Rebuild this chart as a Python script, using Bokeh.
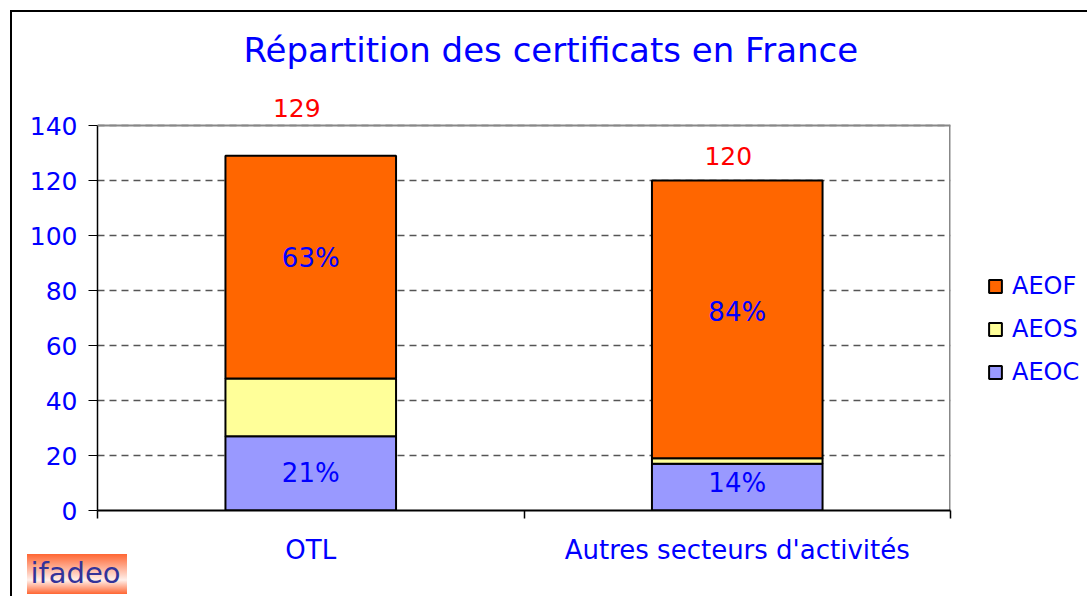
from bokeh.plotting import figure
from bokeh.models import (ColumnDataSource, Range1d, LinearAxis, FixedTicker, LabelSet, Legend,
                          LegendItem, Span, Title, InlineStyleSheet)
from bokeh.core.properties import value
from bokeh.embed import file_html
from bokeh.resources import INLINE

# ---- data ----
categories = ["OTL", "Autres secteurs d'activités"]
aeoc = [27, 17]
aeos = [21, 2]
aeof = [81, 101]
series = ["AEOC", "AEOS", "AEOF"]
y_ticks = [0, 20, 40, 60, 80, 100, 120, 140]
title_text = "Répartition des certificats en France"
logo_text = "ifadeo"

# ---- styles ----
colors = ["#9999FF", "#FFFF99", "#FF6600"]
total_label_dx = [-14, -9]
total_label_dy = [48, 25]
pct_label_dy = [0, 4, 9, 7]
FONT = "DejaVu Sans"
BLUE = "#0000FF"
PLOT_H = 385            # height of the 0..140 plot area in px
HEADROOM = 40           # extra px above it for the total labels

n_cat = len(categories)
xpos = [i + 0.5 for i in range(n_cat)]          # category slot centres
totals = [a + b + c for a, b, c in zip(aeoc, aeos, aeof)]
y_top = y_ticks[-1]

p = figure(x_range=Range1d(0, n_cat),
           y_range=Range1d(0, y_top * (PLOT_H + HEADROOM) / PLOT_H),
           frame_width=853, frame_height=PLOT_H + HEADROOM,
           min_border_left=97, min_border_top=125 - HEADROOM, min_border_right=137,
           min_border_bottom=86,
           output_backend="svg", toolbar_location=None, x_axis_location=None)

p.outline_line_color = None
p.background_fill_color = "white"
p.border_fill_color = None

# title
p.title.text = title_text
p.title.align = "left"
p.title.offset = 146
p.title.standoff = 32
p.title.text_font = FONT
p.title.text_font_size = "34px"
p.title.text_font_style = "normal"
p.title.text_color = BLUE

# y axis
yax = p.yaxis[0]
yax.ticker = FixedTicker(ticks=y_ticks)
yax.bounds = (y_ticks[0], y_top)
yax.axis_line_color = "black"
yax.axis_line_width = 1.5
yax.major_tick_in = 0
yax.major_tick_out = 9
yax.major_tick_line_color = "black"
yax.minor_tick_line_color = None
yax.major_label_text_font = FONT
yax.major_label_text_font_size = "25px"
yax.major_label_text_color = BLUE
yax.major_label_standoff = 11

p.xgrid.visible = False
p.ygrid.grid_line_color = "#555555"
p.ygrid.grid_line_dash = "7 5"
p.ygrid.grid_line_width = 1.5

# plot-area border (top and right)
p.add_layout(Span(location=y_top, dimension="width", line_color="#888888", line_width=2))
p.segment(x0=[n_cat], y0=[y_ticks[0]], x1=[n_cat], y1=[y_top], line_color="#888888", line_width=3)

# x axis: category labels, separator ticks as minor ticks
cat_axis = LinearAxis(ticker=FixedTicker(ticks=xpos, minor_ticks=list(range(n_cat + 1))),
                      major_label_overrides={x: c for x, c in zip(xpos, categories)},
                      axis_line_color="black", axis_line_width=2,
                      major_tick_line_color=None, major_tick_in=0, major_tick_out=8,
                      minor_tick_line_color="black", minor_tick_line_width=1.5,
                      minor_tick_in=0, minor_tick_out=8,
                      major_label_text_font=FONT, major_label_text_font_size="26px",
                      major_label_text_color=BLUE, major_label_standoff=16)
p.add_layout(cat_axis, "below")

# bars
src = ColumnDataSource(dict(x=xpos, AEOC=aeoc, AEOS=aeos, AEOF=aeof))
rs = p.vbar_stack(series, x="x", width=0.4, fill_color=colors, line_color="black",
                  line_width=2, source=src)

# percentage labels
def pct(vals):
    return [f"{round(100 * v / t)}%" for v, t in zip(vals, totals)]

pct_src = ColumnDataSource(dict(
    x=xpos * 2,
    y=[v / 2 for v in aeoc] + [a + b + c / 2 for a, b, c in zip(aeoc, aeos, aeof)],
    text=pct(aeoc) + pct(aeof), dy=pct_label_dy))
p.add_layout(LabelSet(x="x", y="y", text="text", y_offset="dy", source=pct_src,
                      text_align="center", text_baseline="middle", text_color=BLUE,
                      text_font=value(FONT), text_font_size="26px"))

tot_src = ColumnDataSource(dict(x=xpos, y=totals, text=[str(t) for t in totals],
                                dx=total_label_dx, dy=total_label_dy))
p.add_layout(LabelSet(x="x", y="y", text="text", x_offset="dx", y_offset="dy", source=tot_src,
                      text_align="center", text_baseline="middle", text_color="#FF0000",
                      text_font=value(FONT), text_font_size="25px"))

# legend (right side panel)
legend = Legend(items=[LegendItem(label=s, renderers=[r]) for s, r in zip(series[::-1], rs[::-1])],
                location=(37, 124), orientation="vertical",
                label_text_font=FONT, label_text_font_size="24px", label_text_color=BLUE,
                glyph_width=16, glyph_height=16, label_height=24, spacing=15,
                label_standoff=9, padding=0, margin=0,
                border_line_color=None, background_fill_color=None)
p.add_layout(legend, "right")

# logo text
p.add_layout(Title(text=logo_text, align="left", offset=-67, standoff=-28,
                   text_font=FONT, text_font_size="29px", text_font_style="normal",
                   text_color="#333399"), "below")

# chart-area frame and logo background (decoration)
p.stylesheets = [InlineStyleSheet(css="""
:host { position: relative; }
:host::before { content: ""; position: absolute; left: 27px; top: 554px; width: 100px; height: 40px;
  background: linear-gradient(to bottom, #FF6633 0%, #FFF0EB 65%, #FF6633 100%); z-index: -1; }
:host::after { content: ""; position: absolute; left: 10px; top: 10px; right: 0; bottom: 0;
  border-left: 2px solid #000; border-top: 2px solid #000; pointer-events: none; }
""")]

open("out.html", "w").write(file_html(p, INLINE))
